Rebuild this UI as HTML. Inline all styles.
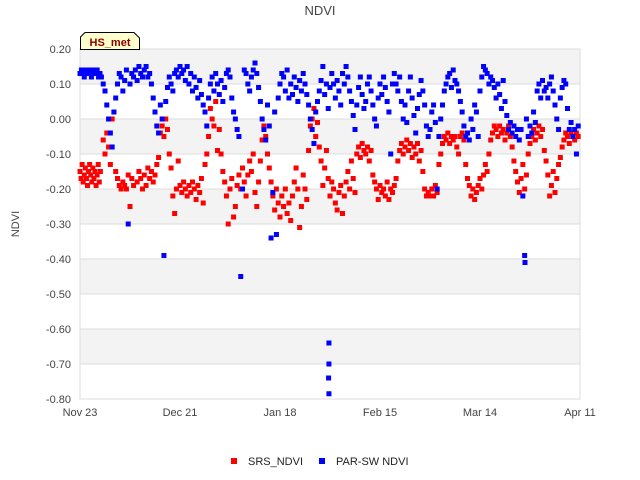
<!DOCTYPE html>
<html><head><meta charset="utf-8"><style>
body{margin:0;background:#fff;}
svg{display:block;font-family:"Liberation Sans",sans-serif;}
</style></head><body>
<svg id="chart" width="640" height="480">
<text x="320" y="15" text-anchor="middle" font-size="13" fill="#444">NDVI</text>
<g id="bands"></g>
<g id="grid"></g>
<rect x="80" y="49" width="500" height="350" fill="none" stroke="#ddd"/>
<g id="yticks"></g><g id="xticks"></g>
<g id="red"></g>
<g id="blue"></g>
<text transform="translate(19,224) rotate(-90)" text-anchor="middle" font-size="11" fill="#444">NDVI</text>
<g>
<path d="M80.5,49.5 L80.5,37 L85,32.5 L134,32.5 L139.5,38 L139.5,49.5 Z" fill="#ffffcc" stroke="#000"/>
<text x="110" y="46" text-anchor="middle" font-size="11" font-weight="bold" fill="#8b0000">HS_met</text>
</g>
<g>
<g><rect x="231" y="458" width="6" height="6" fill="#f00"/><text x="248" y="465" font-size="11" fill="#222">SRS_NDVI</text></g>
<g><rect x="319" y="458" width="6" height="6" fill="#00f"/><text x="336" y="465" font-size="11" fill="#222">PAR-SW NDVI</text></g>
</g>
</svg>
<script>
const yTicks=[0.2,0.1,0,-0.1,-0.2,-0.3,-0.4,-0.5,-0.6,-0.7,-0.8];
const xTickDays=[0,28,56,84,112,140];
const xTickLabels=["Nov 23","Dec 21","Jan 18","Feb 15","Mar 14","Apr 11"];
const srsDays=[0,0.3,0.6,0.9,1.2,1.5,1.8,2.1,2.4,2.7,3,3.3,3.6,3.9,4.2,4.5,4.8,5.1,5.4,5.7,6.5,7,7.5,8,8.5,9,9.5,10,10.5,11,11.5,12,12.5,13,13.5,14,14.5,15,16,16.5,17,17.5,18,18.5,19,19.5,20,20.5,21,21.5,22,22.5,23,23.5,24,24.5,25,25.5,26,26.5,27,27.5,28,28.5,29,29.5,30,30.5,31,31.5,32,32.5,33,33.5,34,34.5,35,35.5,36,36.5,37,37.5,38,38.5,39,39.5,40,40.5,41,41.5,42,42.5,43,43.5,44,44.5,45,45.5,46,46.5,47,47.5,48,48.5,49,49.5,50,50.5,51,51.5,52,52.5,53,53.5,54,54.5,55,55.5,56,56.5,57,57.5,58,58.5,59,59.5,60,60.5,61,61.5,62,62.5,63,63.5,64,64.5,65,65.5,66,66.5,67,67.5,68,68.5,69,69.5,70,70.5,71,71.5,72,72.5,73,73.5,74,74.5,75,75.5,76,76.5,77,77.5,78,78.5,79,79.5,80,80.5,81,81.5,82,82.5,83,83.5,84,84.5,85,85.5,86,86.5,87,87.5,88,88.5,89,89.5,90,90.5,91,91.5,92,92.5,93,93.5,94,94.5,95,95.5,96,96.5,97,97.5,98,98.5,99,99.5,100,100.5,101,101.5,102,102.5,103,103.5,104,104.5,105,105.5,106,106.5,107,107.5,108,108.5,109,109.5,110,110.5,111,111.5,112,112.5,113,113.5,114,114.5,115,115.5,116,116.5,117,117.5,118,118.5,119,119.5,120,120.5,121,121.5,122,122.5,123,123.5,124,124.5,125,125.5,126,126.5,127,127.5,128,128.5,129,129.5,130,130.5,131,131.5,132,132.5,133,133.5,134,134.5,135,135.5,136,136.5,137,137.5,138,138.5,139,139.5];
const srsVals=[-0.15,-0.17,-0.13,-0.18,-0.16,-0.14,-0.17,-0.19,-0.15,-0.13,-0.16,-0.18,-0.14,-0.17,-0.15,-0.19,-0.16,-0.13,-0.18,-0.15,-0.06,-0.1,-0.04,-0.08,-0.13,0.0,0.02,-0.15,-0.17,-0.19,-0.2,-0.18,-0.19,-0.2,-0.16,-0.25,-0.17,-0.19,-0.18,-0.15,-0.17,-0.2,-0.16,-0.19,-0.14,-0.17,-0.15,-0.18,-0.16,-0.13,-0.11,-0.04,-0.02,-0.05,0.0,-0.03,-0.1,-0.14,-0.22,-0.27,-0.2,-0.12,-0.19,-0.21,-0.18,-0.2,-0.22,-0.19,-0.21,-0.18,-0.2,-0.23,-0.19,-0.21,-0.17,-0.24,-0.13,-0.1,-0.05,0.03,0.0,-0.02,0.05,-0.09,-0.03,-0.1,-0.15,-0.18,-0.22,-0.3,-0.2,-0.17,-0.28,-0.25,-0.19,-0.16,-0.2,-0.14,-0.18,-0.22,-0.16,-0.12,-0.15,-0.1,-0.21,-0.25,-0.18,-0.12,-0.06,-0.02,-0.05,-0.1,-0.14,-0.18,-0.22,-0.26,-0.2,-0.24,-0.28,-0.22,-0.25,-0.2,-0.27,-0.24,-0.29,-0.22,-0.18,-0.14,-0.2,-0.31,-0.25,-0.16,-0.2,-0.23,-0.09,-0.02,0.0,0.03,-0.05,-0.01,-0.08,-0.12,-0.19,-0.14,-0.09,-0.17,-0.22,-0.18,-0.2,-0.24,-0.26,-0.21,-0.19,-0.27,-0.22,-0.18,-0.15,-0.2,-0.12,-0.17,-0.21,-0.1,-0.08,-0.11,-0.07,-0.09,-0.1,-0.08,-0.12,-0.09,-0.16,-0.18,-0.2,-0.23,-0.19,-0.21,-0.2,-0.22,-0.18,-0.23,-0.2,-0.21,-0.19,-0.17,-0.12,-0.09,-0.07,-0.1,-0.08,-0.06,-0.09,-0.07,-0.11,-0.08,-0.1,-0.07,-0.12,-0.09,-0.15,-0.2,-0.22,-0.21,-0.22,-0.2,-0.22,-0.19,-0.21,-0.13,-0.1,-0.07,-0.05,-0.06,-0.04,-0.07,-0.05,-0.06,-0.05,-0.08,-0.1,-0.05,-0.04,-0.06,-0.13,-0.17,-0.19,-0.22,-0.2,-0.23,-0.21,-0.19,-0.17,-0.2,-0.16,-0.13,-0.15,-0.1,-0.06,-0.04,-0.02,-0.03,-0.05,-0.02,-0.04,-0.03,-0.06,-0.04,-0.02,-0.05,-0.08,-0.12,-0.15,-0.18,-0.21,-0.17,-0.13,-0.2,-0.16,-0.1,-0.07,-0.05,-0.03,-0.06,-0.04,-0.02,-0.05,-0.03,-0.09,-0.12,-0.16,-0.22,-0.19,-0.15,-0.21,-0.17,-0.13,-0.11,-0.08,-0.06,-0.04,-0.05,-0.07,-0.04,-0.05,-0.06,-0.04,-0.05];
const parDays=[0,0.4,0.8,1.2,1.6,2,2.4,2.8,3.2,3.6,4,4.4,4.8,5.2,5.6,6,6.5,7,7.5,8,8.5,9,9.5,10,10.5,11,11.5,12,12.5,13,13.5,14,14.5,15,15.5,16,16.5,17,17.5,18,18.5,19,19.5,20,20.5,21,21.5,22,22.5,23,23.5,24,24.5,25,25.5,26,26.5,27,27.5,28,28.5,29,29.5,30,30.5,31,31.5,32,32.5,33,33.5,34,34.5,35,35.5,36,36.5,37,37.5,38,38.5,39,39.5,40,40.5,41,41.5,42,42.5,43,43.5,44,44.5,45,45.5,46,46.5,47,47.5,48,48.5,49,49.5,50,50.5,51,51.5,52,52.5,53,53.5,54,54.5,55,55.5,56,56.5,57,57.5,58,58.5,59,59.5,60,60.5,61,61.5,62,62.5,63,63.5,64,64.5,65,65.5,66,66.5,67,67.5,68,68.5,69,69.5,69.7,69.7,69.6,69.7,70,70.5,71,71.5,72,72.5,73,73.5,74,74.5,75,75.5,76,76.5,77,77.5,78,78.5,79,79.5,80,80.5,81,81.5,82,82.5,83,83.5,84,84.5,85,85.5,86,86.5,87,87.5,88,88.5,89,89.5,90,90.5,91,91.5,92,92.5,93,93.5,94,94.5,95,95.5,96,96.5,97,97.5,98,98.5,99,99.5,100,100.5,101,101.5,102,102.5,103,103.5,104,104.5,105,105.5,106,106.5,107,107.5,108,108.5,109,109.5,110,110.5,111,111.5,112,112.5,113,113.5,114,114.5,115,115.5,116,116.5,117,117.5,118,118.5,119,119.5,120,120.5,121,121.5,122,122.5,123,123.5,124,124.5,124.6,125,125.5,126,126.5,127,127.5,128,128.5,129,129.5,130,130.5,131,131.5,132,132.5,133,133.5,134,134.5,135,135.5,136,136.5,137,137.5,138,138.5,139,139.5];
const parVals=[0.13,0.14,0.13,0.12,0.14,0.13,0.14,0.13,0.12,0.14,0.13,0.13,0.14,0.12,0.13,0.12,0.1,0.08,0.04,0.0,-0.04,-0.08,0.02,0.06,0.1,0.13,0.12,0.08,0.11,0.14,-0.3,0.1,0.13,0.12,0.14,0.11,0.15,0.13,0.12,0.14,0.15,0.12,0.13,0.1,0.06,0.02,-0.02,-0.04,0.04,0.0,-0.39,0.05,0.09,0.12,0.1,0.08,0.13,0.14,0.12,0.15,0.13,0.14,0.11,0.15,0.1,0.13,0.08,0.12,0.09,0.06,0.11,0.07,0.04,0.02,-0.02,0.06,0.1,0.12,0.08,0.13,0.1,0.07,0.11,0.05,0.09,0.13,0.14,0.12,0.06,0.02,0.0,-0.03,-0.05,-0.45,-0.2,0.14,0.13,0.1,0.08,0.12,0.14,0.16,0.13,0.09,0.05,0.0,-0.03,-0.06,0.04,-0.02,-0.34,-0.21,0.02,-0.33,0.06,0.1,0.13,0.12,0.08,0.14,0.06,0.1,0.07,0.12,0.09,0.05,0.11,0.08,0.13,0.1,0.07,0.04,0.0,-0.03,-0.07,0.02,0.05,0.08,0.11,0.15,0.07,0.1,0.03,-0.64,-0.7,-0.74,-0.785,0.09,0.13,0.1,0.06,0.11,0.08,0.04,0.13,0.1,0.15,0.12,0.08,0.05,0.01,-0.03,0.04,0.09,0.12,0.07,0.03,0.05,0.1,0.12,0.08,0.04,0.0,-0.02,0.06,0.1,0.07,0.12,0.09,0.05,0.02,-0.1,0.1,0.13,0.1,0.08,0.12,0.05,0.0,0.04,-0.01,0.08,0.12,0.06,0.01,-0.04,0.03,0.07,0.11,0.08,0.04,-0.02,-0.05,-0.03,0.02,0.04,-0.01,-0.2,-0.05,0.0,0.04,0.08,0.1,0.12,0.13,0.09,0.14,0.11,0.1,0.08,0.05,0.02,-0.02,-0.05,-0.04,-0.06,0.0,-0.03,0.04,0.02,-0.05,0.08,0.12,0.15,0.14,0.13,0.1,0.12,0.11,0.09,0.06,0.1,0.07,0.03,0.11,0.05,0.01,-0.03,-0.01,-0.04,-0.02,-0.05,-0.03,-0.06,-0.03,-0.22,-0.39,-0.41,0.0,-0.05,-0.02,-0.04,0.02,-0.01,0.08,0.1,0.06,0.11,0.08,0.09,0.06,0.1,0.12,0.08,0.04,0.0,-0.03,0.06,0.09,0.11,0.1,0.03,-0.03,-0.01,-0.05,-0.03,-0.1,-0.02];

const X0=80,X1=580,Y0=49,Y1=399,DMAX=140,VMAX=0.2,VMIN=-0.8;
function xs(d){return X0+(d/DMAX)*(X1-X0);}
function ys(v){return Y0+(VMAX-v)/(VMAX-VMIN)*(Y1-Y0);}
const NS="http://www.w3.org/2000/svg";
function mk(tag,attrs,parent){const e=document.createElementNS(NS,tag);for(const k in attrs)e.setAttribute(k,attrs[k]);parent.appendChild(e);return e;}
const bands=document.getElementById('bands'),grid=document.getElementById('grid'),yt=document.getElementById('yticks'),xt=document.getElementById('xticks');
for(let i=0;i<yTicks.length-1;i++){
  if(i%2===0){const r=mk('rect',{x:X0,y:ys(yTicks[i]),width:X1-X0,height:ys(yTicks[i+1])-ys(yTicks[i]),fill:'#f3f3f3'},bands);
  
  }
}
yTicks.forEach(v=>{
  const y=ys(v);
  const l=mk('line',{x1:X0,x2:X1,y1:y,y2:y,stroke:'#ddd'},grid);
  
  
  const t=mk('text',{x:71,y:y+4,'text-anchor':'end','font-size':11,fill:'#444'},yt);
  t.textContent=v.toFixed(2);
  
  
});
xTickDays.forEach((d,i)=>{
  const t=mk('text',{x:xs(d),y:416,'text-anchor':'middle','font-size':11,fill:'#444'},xt);
  t.textContent=xTickLabels[i];
  
  
});
function draw(days,vals,color,gid,nm){
  const g=document.getElementById(gid);
  days.forEach((d,i)=>{
    const r=mk('rect',{x:xs(d)-2.5,y:ys(vals[i])-2.5,width:5,height:5,fill:color},g);
    
    
  });
}
draw(srsDays,srsVals,'#f00','red','srs-ndvi-point');
draw(parDays,parVals,'#00f','blue','par-sw-ndvi-point');
</script>
</body></html>
